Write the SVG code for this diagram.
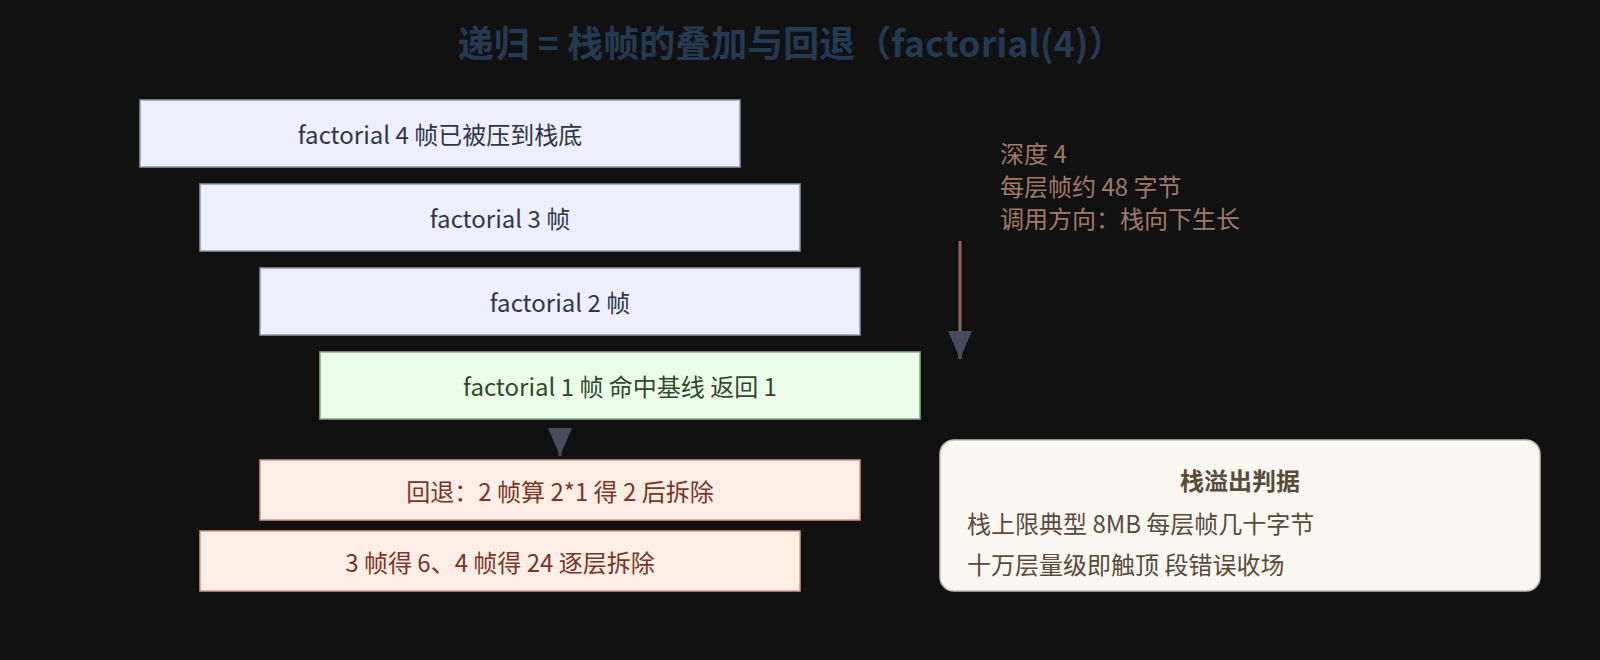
<svg xmlns="http://www.w3.org/2000/svg" width="1600" height="660" viewBox="0 0 1600 660">
<defs>
<style>
text{font-family:"Noto Sans CJK SC","Liberation Sans",sans-serif;}
.title{font-size:36px;font-weight:bold;fill:#243a52;}
.lbl{font-size:24px;text-anchor:middle;dominant-baseline:central;}
.call rect{fill:#eeeefd;stroke:#8a9ab0;stroke-width:1.5;}
.call text{fill:#2d3748;}
.base rect{fill:#ecfdea;stroke:#8aaa88;stroke-width:1.5;}
.base text{fill:#2e4a2a;}
.ret rect{fill:#fdeee5;stroke:#d09a88;stroke-width:1.5;}
.ret text{fill:#7a3528;}
.side{font-size:24px;fill:#a07a68;dominant-baseline:central;}
.note rect{fill:#faf7f0;stroke:#c2beb2;stroke-width:1.5;}
.note text{fill:#5a4a3c;font-size:24px;dominant-baseline:central;}
</style>
<marker id="ah" viewBox="0 0 28 24" refX="28" refY="12" markerWidth="28" markerHeight="24" markerUnits="userSpaceOnUse" orient="auto">
<path d="M0,0 L28,12 L0,24 Z" fill="#4a4a5e"/>
</marker>
</defs>
<rect width="1600" height="660" fill="#111111"/>
<text class="title" x="791" y="41" text-anchor="middle" dominant-baseline="central">递归 = 栈帧的叠加与回退（factorial(4)）</text>

<g id="frame4" class="call"><rect x="140" y="100" width="600" height="67"/><text class="lbl" x="440" y="133.5">factorial 4 帧已被压到栈底</text></g>
<g id="frame3" class="call"><rect x="200" y="184" width="600" height="67"/><text class="lbl" x="500" y="217.5">factorial 3 帧</text></g>
<g id="frame2" class="call"><rect x="260" y="268" width="600" height="67"/><text class="lbl" x="560" y="301.5">factorial 2 帧</text></g>
<g id="frame1" class="base"><rect x="320" y="352" width="600" height="67"/><text class="lbl" x="620" y="385.5">factorial 1 帧 命中基线 返回 1</text></g>
<g id="unwind1" class="ret"><rect x="260" y="460" width="600" height="60"/><text class="lbl" x="560" y="490">回退：2 帧算 2*1 得 2 后拆除</text></g>
<g id="unwind2" class="ret"><rect x="200" y="531" width="600" height="60"/><text class="lbl" x="500" y="561">3 帧得 6、4 帧得 24 逐层拆除</text></g>

<g id="depth-info">
<text class="side" x="1000" y="152">深度 4</text>
<text class="side" x="1000" y="185">每层帧约 48 字节</text>
<text class="side" x="1000" y="217">调用方向：栈向下生长</text>
</g>

<g id="note" class="note">
<rect x="940" y="440" width="600" height="151" rx="14"/>
<text x="1240" y="479" text-anchor="middle" font-weight="bold" font-size="26">栈溢出判据</text>
<text x="967" y="522">栈上限典型 8MB 每层帧几十字节</text>
<text x="967" y="563">十万层量级即触顶 段错误收场</text>
</g>

<g id="connectors">
<line x1="960" y1="241" x2="960" y2="359" stroke="#8a6a5c" stroke-width="3" marker-end="url(#ah)"/>
<line x1="560" y1="429" x2="560" y2="456" stroke="#4a4a5e" stroke-width="3" marker-end="url(#ah)"/>
</g>
</svg>
